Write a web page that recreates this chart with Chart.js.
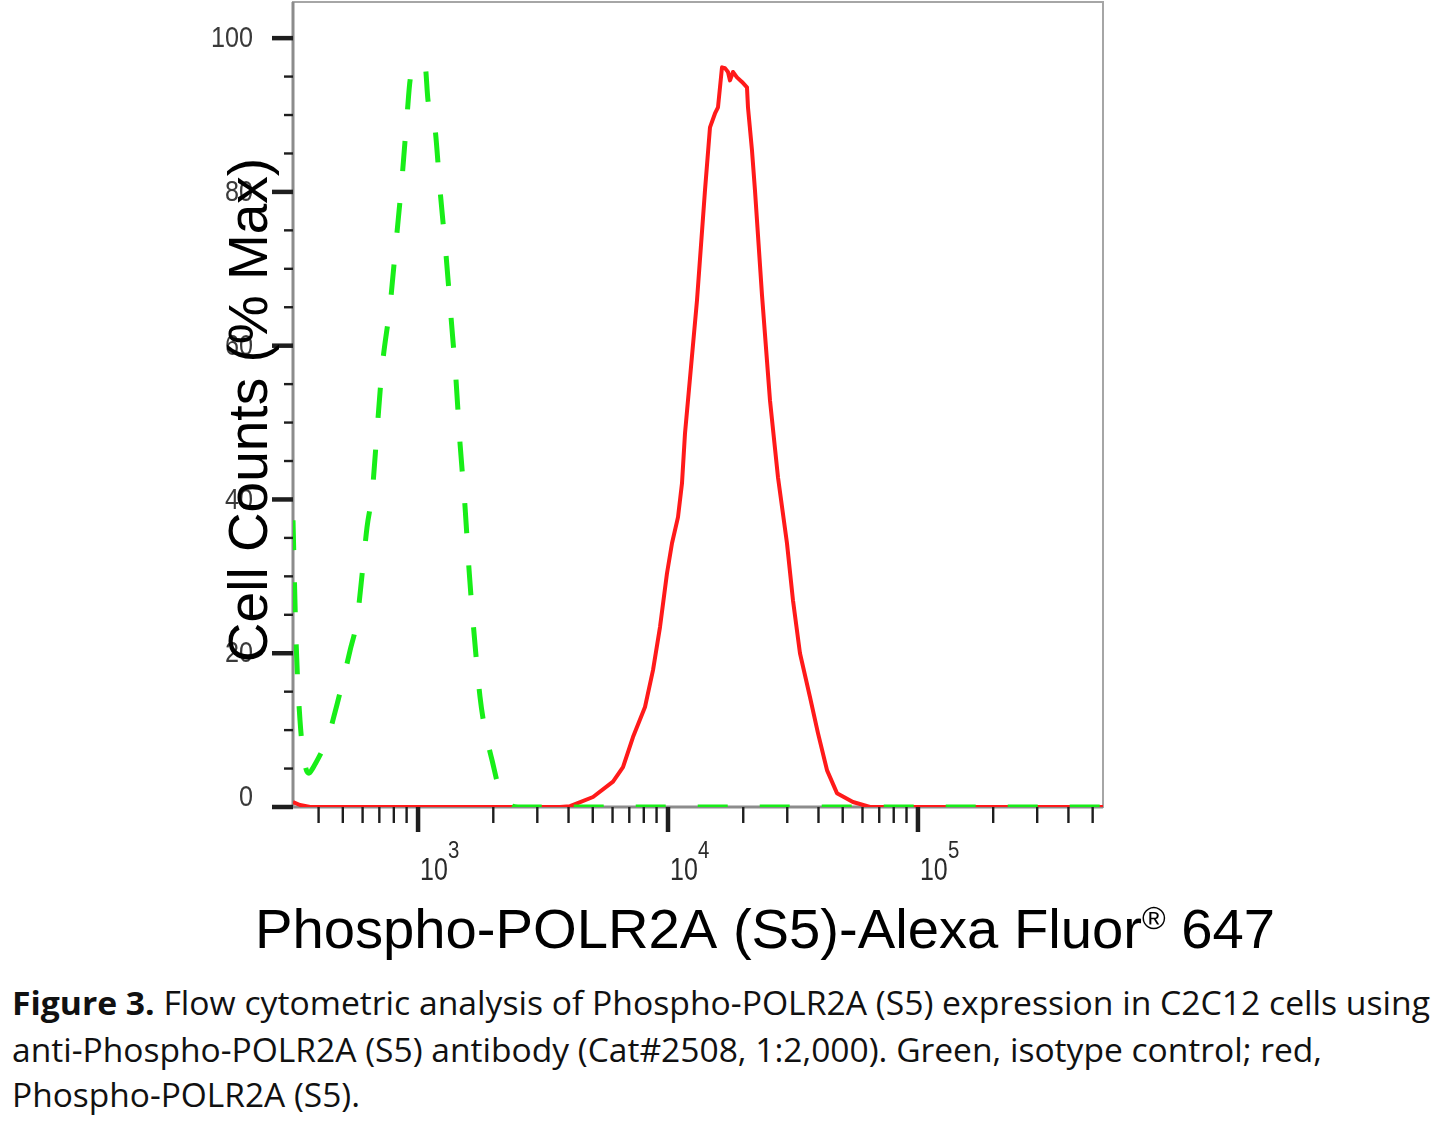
<!DOCTYPE html>
<html><head><meta charset="utf-8">
<script src="https://cdn.jsdelivr.net/npm/chart.js@4.4.1/dist/chart.umd.min.js"></script>
<style>
html,body{margin:0;padding:0;background:#fff;}
#wrap{position:relative;width:1456px;height:1126px;overflow:hidden;background:#fff;}
#c{position:absolute;left:0;top:0;}
.cap{position:absolute;left:12px;white-space:nowrap;font-family:"Open Sans","Noto Sans",sans-serif;font-size:32px;line-height:32px;color:#111;transform-origin:0 0;}
.cap b{font-weight:700;}
</style></head><body>
<div id="wrap">
<canvas id="c" width="1456" height="970"></canvas>
<div class="cap" id="cap1" style="top:987px"><b>Figure 3.</b> Flow cytometric analysis of Phospho-POLR2A (S5) expression in C2C12 cells using</div>
<div class="cap" id="cap2" style="top:1034px">anti-Phospho-POLR2A (S5) antibody (Cat#2508, 1:2,000). Green, isotype control; red,</div>
<div class="cap" id="cap3" style="top:1079px">Phospho-POLR2A (S5).</div>
</div>
<script>
// ---- data ----
const greenX = [316, 325, 337, 353, 366, 380, 406, 433, 466, 501, 535, 570, 597, 625, 655, 685, 718, 773, 817, 863, 904, 929, 973, 1019, 1067, 1096, 1169, 1225, 1294, 1355, 1419, 1472, 1542, 1600, 1675, 1770, 1854, 1977, 2128, 2333, 2512, 10000, 100000, 550000];
const greenY = [37.3, 21.7, 11.3, 5.5, 4.4, 5.1, 6.8, 8.7, 12.4, 16.5, 20.4, 24.3, 30.2, 36.4, 40.8, 48.8, 57.1, 65.3, 73.5, 81.8, 90.0, 94.5, 96.4, 96.7, 96.4, 91.9, 88.3, 80.2, 71.8, 63.7, 55.5, 47.3, 39.0, 30.8, 22.6, 14.3, 10.0, 6.1, 2.0, 0.3, 0, 0, 0, 0];
const redX = [316, 337, 370, 3698, 4055, 5012, 6026, 6607, 7244, 8091, 8710, 9290, 9908, 10375, 10965, 11376, 11695, 12023, 13062, 14060, 14723, 15417, 15849, 16444, 16904, 17378, 17701, 18197, 18880, 19770, 20701, 20893, 21677, 22284, 23768, 25586, 27542, 29923, 31623, 33729, 36983, 39811, 43251, 47424, 54954, 64269, 100000, 550000];
const redY = [0.65, 0.26, 0, 0, 0.1, 1.3, 3.3, 5.2, 9.1, 13.0, 17.8, 23.4, 30.4, 34.3, 37.7, 42.1, 48.6, 52.9, 65.9, 80.2, 88.4, 90.2, 91.0, 96.2, 96.1, 95.6, 94.5, 95.6, 94.9, 94.3, 93.6, 91.0, 85.4, 80.2, 66.6, 52.9, 42.9, 34.3, 26.9, 20.0, 14.3, 9.6, 4.8, 1.8, 0.65, 0, 0, 0];

const xMajorTicks = [1000, 10000, 100000];
const xMajorExponents = ['3', '4', '5'];
const xMinorTicks = [400, 500, 600, 700, 800, 900, 2000, 3000, 4000, 5000, 6000, 7000, 8000, 9000, 20000, 30000, 40000, 50000, 60000, 70000, 80000, 90000, 200000, 300000, 400000, 500000];
const yMajorTicks = [0, 20, 40, 60, 80, 100];
const yTickLabels = ['0', '20', '40', '60', '80', '100'];
const yMinorTicks = [5, 10, 15, 25, 30, 35, 45, 50, 55, 65, 70, 75, 85, 90, 95];
const xTitleMain = 'Phospho-POLR2A (S5)-Alexa Fluor';
const xTitleMark = '\u00AE';
const xTitleEnd = ' 647';
const yTitle = 'Cell Counts (% Max)';
const seriesNames = ['Isotype control', 'Phospho-POLR2A (S5)'];

const FONT = '"Liberation Sans", Arial, Helvetica, sans-serif';

function txt(ctx, s, x, y, size, sx, align, color, base) {
  ctx.save();
  ctx.font = size + 'px ' + FONT;
  ctx.fillStyle = color;
  ctx.textAlign = align;
  ctx.textBaseline = base || 'alphabetic';
  ctx.translate(x, y);
  ctx.scale(sx, 1);
  ctx.fillText(s, 0, 0);
  ctx.restore();
}
function seg(ctx, x1, y1, x2, y2) { ctx.beginPath(); ctx.moveTo(x1, y1); ctx.lineTo(x2, y2); ctx.stroke(); }

const framePlugin = {
  id: 'framePlugin',
  beforeDatasetsDraw(chart) {
    const { ctx, chartArea: a, scales: { x, y } } = chart;
    ctx.save();
    ctx.strokeStyle = '#a6a6a6'; ctx.lineWidth = 2;
    ctx.strokeRect(a.left, a.top, a.right - a.left, a.bottom - a.top);
    ctx.strokeStyle = '#8c8c8c'; ctx.lineWidth = 3;
    seg(ctx, a.left, a.top, a.left, a.bottom + 1);
    seg(ctx, a.left, a.bottom, a.right, a.bottom);
    ctx.strokeStyle = '#1e1e1e'; ctx.lineCap = 'butt';
    ctx.lineWidth = 4.5;
    yMajorTicks.forEach(v => { const py = y.getPixelForValue(v); seg(ctx, a.left - 21, py, a.left, py); });
    ctx.lineWidth = 2.4;
    yMinorTicks.forEach(v => { const py = y.getPixelForValue(v); seg(ctx, a.left - 9, py, a.left, py); });
    ctx.lineWidth = 4.5;
    xMajorTicks.forEach(v => { const px = x.getPixelForValue(v); seg(ctx, px, a.bottom, px, a.bottom + 25); });
    ctx.lineWidth = 2.4;
    xMinorTicks.forEach(v => { const px = x.getPixelForValue(v); seg(ctx, px, a.bottom, px, a.bottom + 16); });
    ctx.restore();
  },
  afterDraw(chart) {
    const { ctx, chartArea: a, scales: { x, y } } = chart;
    yMajorTicks.forEach((v, i) => {
      const py = y.getPixelForValue(v) + (v === 0 ? -9 : 1);
      txt(ctx, yTickLabels[i], a.left - 40, py, 30, 0.84, 'right', '#3a3a3a', 'middle');
    });
    xMajorTicks.forEach((v, i) => {
      const px = x.getPixelForValue(v);
      txt(ctx, '10', px + 2, 880, 32, 0.78, 'left', '#2a2a2a');
      txt(ctx, xMajorExponents[i], px + 30, 858, 24, 0.85, 'left', '#2a2a2a');
    });
    ctx.save();
    ctx.font = '55px ' + FONT;
    ctx.fillStyle = '#000';
    ctx.textAlign = 'center';
    ctx.textBaseline = 'alphabetic';
    ctx.translate(267, 410);
    ctx.rotate(-Math.PI / 2);
    ctx.fillText(yTitle, 0, 0);
    ctx.restore();
    ctx.save();
    ctx.fillStyle = '#000';
    ctx.textBaseline = 'alphabetic';
    ctx.font = '56px ' + FONT;
    const w1 = ctx.measureText(xTitleMain).width;
    const w3 = ctx.measureText(xTitleEnd).width;
    ctx.font = '32px ' + FONT;
    const w2 = ctx.measureText(xTitleMark).width;
    const total = w1 + w2 + w3;
    const sx = 1020 / total;
    ctx.translate(255, 948);
    ctx.scale(sx, 1);
    ctx.font = '56px ' + FONT;
    ctx.fillText(xTitleMain, 0, 0);
    ctx.font = '32px ' + FONT;
    ctx.fillText(xTitleMark, w1, -19);
    ctx.font = '56px ' + FONT;
    ctx.fillText(xTitleEnd, w1 + w2, 0);
    ctx.restore();
  }
};

const chart = new Chart(document.getElementById('c'), {
  type: 'line',
  data: {
    datasets: [
      {
        label: seriesNames[0],
        data: greenX.map((v, i) => ({ x: v, y: greenY[i] })),
        borderColor: '#18ee18',
        borderWidth: 5,
        borderDash: [30, 32],
        borderJoinStyle: 'round',
        pointRadius: 0,
        tension: 0.3,
        cubicInterpolationMode: 'monotone',
        fill: false
      },
      {
        label: seriesNames[1],
        data: redX.map((v, i) => ({ x: v, y: redY[i] })),
        borderColor: '#ff1a1a',
        borderWidth: 4,
        borderJoinStyle: 'round',
        pointRadius: 0,
        tension: 0,
        fill: false
      }
    ]
  },
  options: {
    responsive: false,
    animation: false,
    events: [],
    layout: { padding: { left: 293, top: 2, right: 353, bottom: 163 } },
    plugins: { legend: { display: false }, tooltip: { enabled: false } },
    scales: {
      x: { type: 'logarithmic', min: 316, max: 550000, display: false },
      y: { type: 'linear', min: 0, max: 104.7, display: false }
    }
  },
  plugins: [framePlugin]
});

const capTargets = { cap1: 1418, cap2: 1310, cap3: 348 };
Object.keys(capTargets).forEach(id => {
  const el = document.getElementById(id);
  const w = el.getBoundingClientRect().width;
  if (w > 0) el.style.transform = 'scaleX(' + (capTargets[id] / w) + ')';
});
</script>
</body></html>
